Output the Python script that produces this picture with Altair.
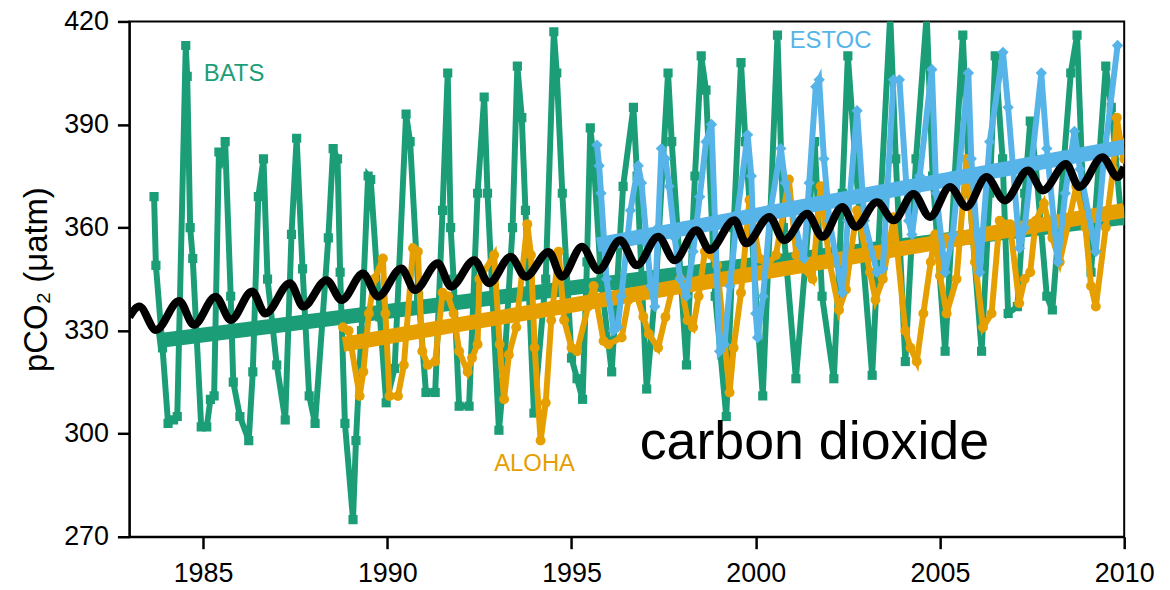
import altair as alt
import pandas as pd

# ---------------- data ----------------
bats_year = [1983.67, 1983.72, 1983.9, 1984.05, 1984.2, 1984.3, 1984.53, 1984.57, 1984.65, 1984.72,
             1984.95, 1985.1, 1985.2, 1985.3, 1985.43, 1985.5, 1985.6, 1985.75, 1985.82, 1986.0,
             1986.24, 1986.35, 1986.5, 1986.64, 1986.75, 1987.0, 1987.23, 1987.4, 1987.54, 1987.7,
             1987.88, 1988.04, 1988.4, 1988.53, 1988.65, 1988.72, 1988.85, 1989.07, 1989.15, 1989.3,
             1989.48, 1989.55, 1989.8, 1989.97, 1990.2, 1990.51, 1990.62, 1990.85, 1991.05, 1991.3,
             1991.5, 1991.64, 1991.72, 1991.8, 1991.95, 1992.22, 1992.45, 1992.63, 1992.72, 1993.03,
             1993.15, 1993.4, 1993.53, 1993.65, 1993.75, 1993.98, 1994.3, 1994.52, 1994.6, 1994.75,
             1995.0, 1995.15, 1995.3, 1995.42, 1995.51, 1995.6, 1995.8, 1996.09, 1996.4, 1996.68,
             1996.78, 1997.04, 1997.3, 1997.62, 1997.72, 1998.12, 1998.35, 1998.52, 1998.65, 1998.9,
             1999.2, 1999.4, 1999.6, 1999.72, 2000.19, 2000.4, 2000.59, 2000.75, 2001.09, 2001.35,
             2001.6, 2001.8, 2002.12, 2002.35, 2002.5, 2002.7, 2003.16, 2003.4, 2003.65, 2003.8,
             2004.06, 2004.35, 2004.64, 2004.8, 2005.14, 2005.4, 2005.62, 2005.8, 2006.13, 2006.35,
             2006.5, 2006.7, 2006.85, 2007.1, 2007.3, 2007.45, 2007.6, 2007.9, 2008.05, 2008.55,
             2008.72, 2008.9, 2009.1, 2009.5, 2009.65, 2009.9, 2010.0]
bats_pco2 = [369, 349, 325, 303, 304, 305, 413, 404, 360, 351,
             302, 302, 310, 311, 382, 380, 385, 340, 315, 305,
             298, 318, 369, 380, 345, 320, 304, 358, 386, 348,
             311, 303, 357, 383, 380, 347, 303, 275, 298, 330,
             375, 374, 334, 309, 319, 393, 385, 340, 312, 312,
             365, 405, 360, 345, 308, 308, 370, 398, 370, 301,
             315, 360, 407, 392, 365, 306, 345, 417, 405, 370,
             322, 316, 310, 350, 389, 380, 345, 318, 372, 395,
             375, 313, 345, 405, 385, 320, 375, 410, 400, 340,
             305, 360, 408, 385, 311, 365, 416, 360, 316, 350,
             385, 340, 316, 370, 410, 380, 317, 370, 422, 380,
             321, 380, 422, 375, 324, 375, 416, 370, 324, 370,
             410, 380, 335, 337, 370, 391, 378, 340, 336, 405,
             416, 365, 347, 407, 395, 365, 362]

aloha_year = [1988.8, 1988.95, 1989.25, 1989.35, 1989.5, 1989.65, 1989.88, 1989.95, 1990.06, 1990.29,
              1990.45, 1990.7, 1990.83, 1990.95, 1991.1, 1991.3, 1991.5, 1991.65, 1991.8, 1991.95,
              1992.18, 1992.3, 1992.45, 1992.5, 1992.9, 1993.05, 1993.17, 1993.3, 1993.5, 1993.8,
              1993.9, 1994.0, 1994.16, 1994.3, 1994.45, 1994.65, 1994.8, 1995.0, 1995.15, 1995.45,
              1995.6, 1995.87, 1996.0, 1996.36, 1996.55, 1996.75, 1996.95, 1997.1, 1997.35, 1997.55,
              1997.75, 1997.95, 1998.15, 1998.3, 1998.45, 1998.62, 1998.8, 1998.95, 1999.1, 1999.29,
              1999.4, 1999.6, 1999.83, 2000.1, 2000.3, 2000.55, 2000.9, 2001.1, 2001.3, 2001.54,
              2001.76, 2002.0, 2002.26, 2002.45, 2002.57, 2002.75, 2003.1, 2003.25, 2003.45, 2003.65,
              2003.75, 2004.06, 2004.2, 2004.37, 2004.55, 2004.75, 2004.87, 2005.0, 2005.18, 2005.45,
              2005.72, 2005.95, 2006.17, 2006.4, 2006.62, 2006.9, 2007.15, 2007.3, 2007.45, 2007.6,
              2007.82, 2008.05, 2008.25, 2008.5, 2008.7, 2008.95, 2009.1, 2009.23, 2009.5, 2009.7,
              2009.8, 2009.9, 2010.0]
aloha_pco2 = [331, 330, 311, 318, 335, 345, 351, 335, 311, 311,
              320, 354, 353, 324, 320, 321, 341, 340, 335, 324,
              318, 322, 326, 345, 352, 326, 310, 323, 331, 361,
              352, 325, 298, 309, 333, 353, 333, 325, 324, 337,
              343, 327, 326, 328, 339, 341, 334, 329, 325, 334,
              343, 345, 333, 331, 340, 353, 352, 349, 333, 312,
              325, 341, 368, 351, 349, 352, 374, 352, 348, 345,
              372, 350, 336, 342, 352, 365, 347, 339, 345, 357,
              363, 330, 325, 321, 335, 350, 358, 346, 335, 345,
              380, 350, 331, 335, 362, 361, 338, 345, 347, 362,
              367, 357, 350, 362, 372, 360, 343, 337, 360, 377,
              392, 385, 380]

estoc_year = [1995.69, 1995.75, 1995.8, 1995.95, 1996.14, 1996.25, 1996.35, 1996.6, 1996.81, 1996.9,
              1997.05, 1997.15, 1997.26, 1997.35, 1997.44, 1997.55, 1997.65, 1997.8, 1997.95, 1998.12,
              1998.3, 1998.48, 1998.65, 1998.8, 1998.9, 1999.02, 1999.15, 1999.3, 1999.5, 1999.78,
              1999.88, 2000.0, 2000.05, 2000.2, 2000.4, 2000.68, 2000.8, 2001.0, 2001.2, 2001.31,
              2001.45, 2001.63, 2001.72, 2001.85, 2002.0, 2002.35, 2002.5, 2002.75, 2002.95, 2003.29,
              2003.45, 2003.74, 2003.9, 2004.15, 2004.24, 2004.45, 2004.78, 2004.9, 2005.14, 2005.35,
              2005.77, 2005.85, 2006.08, 2006.35, 2006.71, 2006.85, 2007.16, 2007.3, 2007.75, 2007.9,
              2008.2, 2008.4, 2008.65, 2008.8, 2009.23, 2009.45, 2009.82]
estoc_pco2 = [384, 378, 370, 345, 330, 331, 340, 365, 378, 373,
              355, 343, 337, 360, 383, 380, 372, 357, 345, 340,
              353, 369, 385, 390, 360, 324, 326, 343, 364, 387,
              375, 335, 328, 340, 365, 383, 373, 364, 355, 351,
              373, 401, 403, 380, 362, 341, 362, 394, 362, 347,
              348, 403, 403, 362, 358, 375, 406, 370, 347, 358,
              405, 380, 347, 385, 411, 395, 354, 360, 405, 383,
              350, 370, 388, 377, 353, 380, 413]

atm_year = [1983.0, 1983.27, 1983.72, 1984.35, 1984.75, 1985.34, 1985.75, 1986.33, 1986.69, 1987.36,
            1987.72, 1988.35, 1988.76, 1989.34, 1989.75, 1990.38, 1990.75, 1991.37, 1991.73, 1992.36,
            1992.76, 1993.35, 1993.75, 1994.38, 1994.74, 1995.28, 1995.73, 1996.32, 1996.77, 1997.35,
            1997.8, 1998.39, 1998.75, 1999.42, 1999.74, 2000.37, 2000.77, 2001.4, 2001.81, 2002.35,
            2002.71, 2003.29, 2003.74, 2004.28, 2004.73, 2005.27, 2005.72, 2006.26, 2006.76, 2007.39,
            2007.79, 2008.42, 2008.78, 2009.41, 2009.82, 2010.0]
atm_pco2 = [334, 337, 330.2, 338.6, 331.7, 339.9, 333.1, 341.4, 335, 343.8,
            337, 344.7, 338.9, 346.6, 339.9, 348.1, 341.8, 349.6, 342.8, 350.5,
            343.8, 351.5, 345.7, 352.9, 345.7, 354.4, 347.6, 356.3, 349, 357.3,
            350.5, 359.2, 353.5, 362.1, 355.4, 363.1, 356.3, 364, 357.3, 366,
            360.2, 367.4, 362.1, 369.8, 363.1, 371.8, 366, 374.7, 367.9, 376.6,
            370.8, 378.5, 371.8, 380.5, 374.7, 377.6]

bats_trend_year = [1983.75, 2010.0]
bats_trend_pco2 = [327, 363]
aloha_trend_year = [1988.8, 2010.0]
aloha_trend_pco2 = [326, 365]
estoc_trend_year = [1995.7, 2010.0]
estoc_trend_pco2 = [355, 383.5]

label_text = ["BATS", "ALOHA", "ESTOC"]
label_year = [1985.02, 1992.9, 2000.92]
label_pco2 = [404.7, 291.1, 414.2]

x_ticks = [1985, 1990, 1995, 2000, 2005, 2010]
y_ticks = [270, 300, 330, 360, 390, 420]

GREEN = "#1b9e77"
ORANGE = "#e69f00"
BLUE = "#56b4e9"
FONT = "Liberation Sans"

x_enc = alt.X("year:Q",
              scale=alt.Scale(domain=[1983, 2010], nice=False, zero=False),
              axis=alt.Axis(values=x_ticks, format="d", title=None, labelPadding=12,
                            labelFlush=False, labelOverlap=False))
y_enc = alt.Y("pco2:Q",
              scale=alt.Scale(domain=[270, 420], nice=False, zero=False),
              axis=alt.Axis(values=y_ticks, title="pCO\u2082 (\u03bcatm)", labelPadding=9,
                            titlePadding=10, labelFlush=False, labelOverlap=False))


def df_of(years, vals):
    return pd.DataFrame({"year": years, "pco2": vals})


def series(years, vals, color, shape, size):
    base = alt.Chart(df_of(years, vals))
    line = base.mark_line(color=color, strokeWidth=6, clip=True).encode(x=x_enc, y=y_enc)
    pts = base.mark_point(shape=shape, filled=True, size=size, color=color, opacity=1,
                          clip=True).encode(x=x_enc, y=y_enc)
    return line + pts


def trend(years, vals, color):
    return alt.Chart(df_of(years, vals)).mark_line(
        color=color, strokeWidth=15, strokeCap="butt", clip=True).encode(x=x_enc, y=y_enc)


atm = alt.Chart(df_of(atm_year, atm_pco2)).mark_line(
    color="black", strokeWidth=8, interpolate="monotone", clip=True).encode(x=x_enc, y=y_enc)

labels = alt.Chart(pd.DataFrame({"year": label_year, "pco2": label_pco2, "t": label_text,
                                 "c": [GREEN, ORANGE, BLUE]})).mark_text(
    font=FONT, fontSize=24, align="left", baseline="middle").encode(
    x=x_enc, y=y_enc, text="t:N", color=alt.Color("c:N", scale=None))

big = alt.Chart(pd.DataFrame({"year": [1996.85], "pco2": [292.6], "t": ["carbon dioxide"]})).mark_text(
    font=FONT, fontSize=54, align="left", baseline="alphabetic", color="black").encode(
    x=x_enc, y=y_enc, text="t:N")

chart = alt.layer(
    series(bats_year, bats_pco2, GREEN, "square", 85),
    trend(bats_trend_year, bats_trend_pco2, GREEN),
    series(aloha_year, aloha_pco2, ORANGE, "circle", 100),
    trend(aloha_trend_year, aloha_trend_pco2, ORANGE),
    series(estoc_year, estoc_pco2, BLUE, "diamond", 130),
    trend(estoc_trend_year, estoc_trend_pco2, BLUE),
    atm,
    labels,
    big,
).properties(
    width=1000, height=518,
    padding={"left": 122, "top": 12, "right": 38, "bottom": 50},
    autosize=alt.AutoSizeParams(type="none"),
).configure_view(
    stroke="black", strokeWidth=2
).configure_axis(
    domainColor="black", domainWidth=2, tickColor="black", tickWidth=2.5, tickSize=12,
    labelFont=FONT, labelFontSize=27, labelColor="black", grid=False,
    titleFont=FONT, titleFontSize=33, titleFontWeight="normal", titleColor="black"
)

chart.save("out.html", embed_options={"renderer": "svg", "actions": False})
